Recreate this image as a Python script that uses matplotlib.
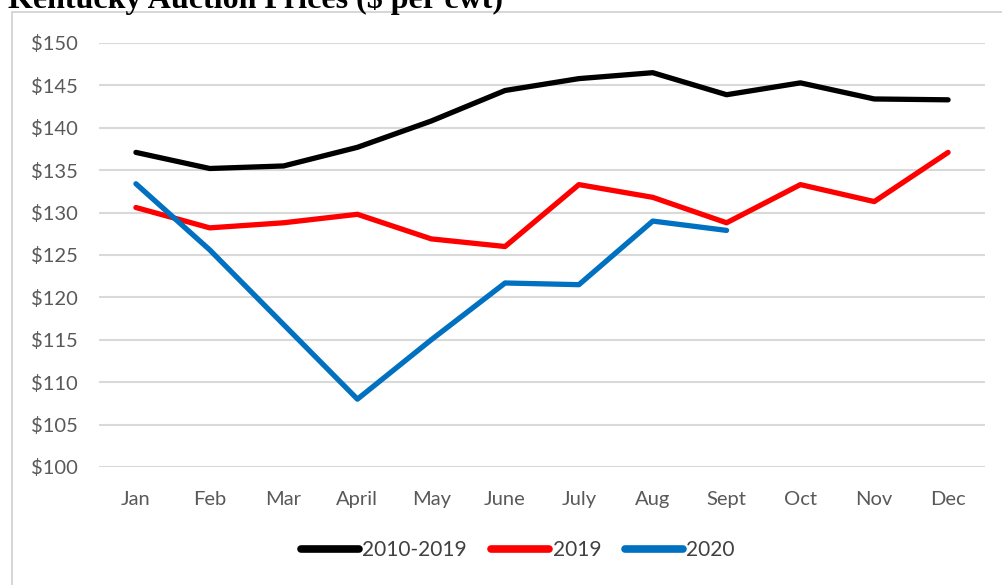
import numpy as np
import matplotlib.pyplot as plt
from matplotlib.patches import Rectangle
from matplotlib.ticker import FuncFormatter

plt.rcParams["font.family"] = ["Lato", "DejaVu Sans"]

months = ["Jan", "Feb", "Mar", "April", "May", "June",
          "July", "Aug", "Sept", "Oct", "Nov", "Dec"]
avg_2010_2019 = [137.1, 135.2, 135.5, 137.7, 140.8, 144.4,
                 145.8, 146.5, 143.9, 145.3, 143.4, 143.3]
prices_2019 = [130.6, 128.2, 128.8, 129.8, 126.9, 126.0,
               133.3, 131.8, 128.8, 133.3, 131.3, 137.1]
prices_2020 = [133.4, 125.6, 116.8, 108.0, 115.0, 121.7,
               121.5, 129.0, 127.9]

W, H = 1003, 585
fig = plt.figure(figsize=(W / 100, H / 100), dpi=100)
ax = fig.add_axes([99 / W, 1 - 467 / H, (985 - 99) / W, (467 - 43) / H])

# outer chart frame
fig.patches.append(Rectangle((12 / W, -0.1), 1.2, 1.1 - 12 / H,
                             transform=fig.transFigure, fill=False,
                             edgecolor="#d0d0d0", linewidth=1.2))

x = np.arange(len(months))
ax.plot(x, avg_2010_2019, color="black", lw=3.8, label="2010-2019",
        solid_capstyle="round", solid_joinstyle="round")
ax.plot(x, prices_2019, color="#ff0000", lw=3.8, label="2019",
        solid_capstyle="round", solid_joinstyle="round")
ax.plot(x[:len(prices_2020)], prices_2020, color="#0070c0", lw=3.8,
        label="2020", solid_capstyle="round", solid_joinstyle="round")

ax.set_xlim(-0.5, len(months) - 0.5)
ax.set_ylim(100, 150)
ax.set_yticks(np.arange(100, 151, 5))
ax.yaxis.set_major_formatter(FuncFormatter(lambda v, p: f"${v:.0f}"))
ax.set_xticks(x)
ax.set_xticklabels(months)
ax.grid(axis="y", color="#d9d9d9", lw=1.5)
ax.set_axisbelow(True)
for s in ax.spines.values():
    s.set_visible(False)
ax.tick_params(length=0, labelsize=14.5, colors="#595959")
ax.tick_params(axis="x", pad=17)
ax.tick_params(axis="y", pad=15)

leg = fig.legend(loc="center", bbox_to_anchor=(518 / W, 1 - 550 / H), ncol=3,
                 frameon=False, fontsize=15, labelcolor="#404040",
                 handlelength=2.8, handletextpad=0.15, columnspacing=1.15)
for h in leg.legend_handles:
    h.set_linewidth(5.5)

fig.text(8 / W, 1 - 8 / H, "Kentucky Auction Prices ($ per cwt)",
         family="Liberation Serif", weight="bold", fontsize=23,
         ha="left", va="baseline", color="black")

fig.savefig("out.png", dpi=100)
